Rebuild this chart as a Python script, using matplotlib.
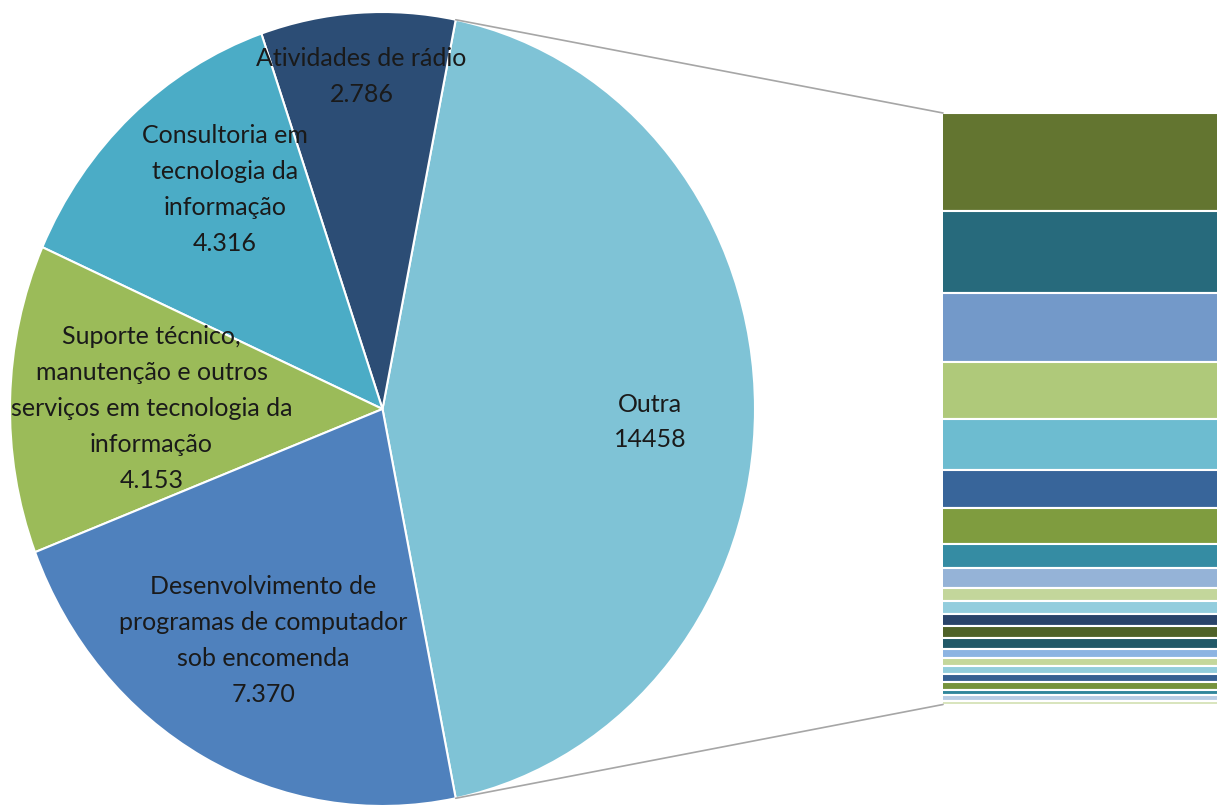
import numpy as np
import matplotlib
matplotlib.use("Agg")
import matplotlib.pyplot as plt
from matplotlib.patches import ConnectionPatch

plt.rcParams['font.family'] = ['Lato', 'DejaVu Sans']

# pie slices, in drawing order (counter-clockwise from the "Outra" slice)
pie_labels = ["Outra",
              "Atividades de rádio",
              "Consultoria em\ntecnologia da\ninformação",
              "Suporte técnico,\nmanutenção e outros\nserviços em tecnologia da\ninformação",
              "Desenvolvimento de\nprogramas de computador\nsob encomenda"]
pie_values = [14458, 2786, 4316, 4153, 7370]
pie_value_text = ["14458", "2.786", "4.316", "4.153", "7.370"]
pie_colors = ["#7FC3D6", "#2C4D75", "#4BACC6", "#9BBB59", "#4F81BD"]

# breakdown of "Outra" (stacked bar, top to bottom)
bar_values = [2407, 1992, 1699, 1374, 1261, 934, 868, 587, 489, 318, 305,
              298, 290, 280, 212, 205, 200, 195, 188, 135, 128, 93]
bar_colors = ["#637530", "#276A7C", "#7399C9", "#AFC97A", "#6DBCD0", "#38659A",
              "#7F9C3F", "#358CA3", "#95B3D7", "#C3D69B", "#93CDDD", "#2A446A",
              "#4F6228", "#215968", "#8DB4E2", "#C4D79B", "#92CDDC", "#366092",
              "#76933C", "#31869B", "#B8CCE4", "#D8E4BC"]

W, H = 1217, 811
fig = plt.figure(figsize=(W/100, H/100), dpi=100)

ax = fig.add_axes([10/W, 5/H, 745/W, 794/H])
total = sum(pie_values)
outra_angle = 360.0*pie_values[0]/total
wedges, _ = ax.pie(pie_values, colors=pie_colors, startangle=-outra_angle/2,
                   counterclock=True,
                   wedgeprops=dict(edgecolor="white", linewidth=1.5))
ax.set_aspect("auto")
ax.set_xlim(-1, 1)
ax.set_ylim(-1, 1)
ax.axis("off")

# label placement: radius and angle shift from the slice bisector
label_r = [0.72, 0.84, 0.696, 0.62, 0.665]
label_dang = [-2.6, 0, -5.0, 1.4, 0]
for w, lab, val, r, da in zip(wedges, pie_labels, pie_value_text, label_r, label_dang):
    ang = np.deg2rad((w.theta1 + w.theta2)/2 + da)
    ax.text(r*np.cos(ang), r*np.sin(ang), lab + "\n" + val, ha="center", va="center",
            fontsize=18, linespacing=1.68, color="#1a1a1a")

bx = fig.add_axes([943/W, (H-704.5)/H, (W-943)/W, (704.5-113)/H])
bottoms = np.concatenate([[0], np.cumsum(bar_values)[:-1]])
bx.bar([0]*len(bar_values), bar_values, bottom=bottoms, width=1.2, color=bar_colors,
       edgecolor="white", linewidth=1.5)
bx.set_xlim(-0.5, 0.5)
bx.set_ylim(sum(bar_values), 0)
bx.axis("off")

# connector lines between the "Outra" slice and the bar
a = np.deg2rad(outra_angle/2)
for sgn, yb in [(1, 0), (-1, sum(bar_values))]:
    con = ConnectionPatch(xyA=(np.cos(a), sgn*np.sin(a)), coordsA=ax.transData,
                          xyB=(-0.5, yb), coordsB=bx.transData,
                          color="#a6a6a6", lw=1.2)
    fig.add_artist(con)

fig.savefig("out.png", dpi=100)
